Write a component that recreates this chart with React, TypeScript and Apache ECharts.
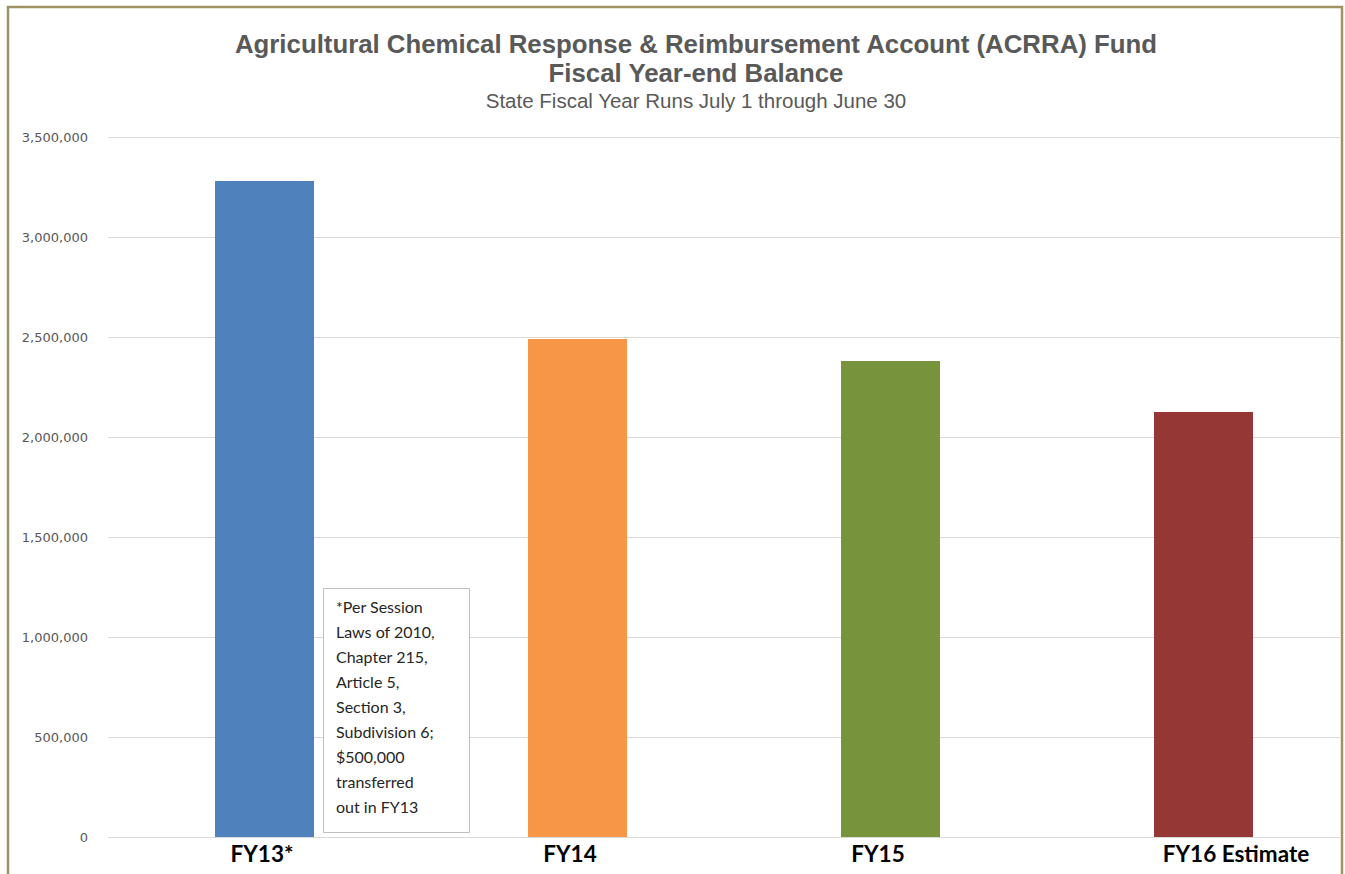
import React, { useEffect, useRef } from "react";
import * as echarts from "echarts";

const CATEGORIES = ["FY13*", "FY14", "FY15", "FY16 Estimate"];
const BALANCES = [3280000, 2490000, 2380000, 2125000];
const BAR_COLORS = ["#4f81bd", "#f79646", "#77933c", "#953735"];
const Y_MIN = 0;
const Y_MAX = 3500000;
const Y_STEP = 500000;
const TITLE_LINES = [
  "Agricultural Chemical Response & Reimbursement Account (ACRRA) Fund",
  "Fiscal Year-end Balance",
];
const SUBTITLE = "State Fiscal Year Runs July 1 through June 30";
const NOTE_LINES = [
  "*Per Session",
  "Laws of 2010,",
  "Chapter 215,",
  "Article 5,",
  "Section 3,",
  "Subdivision 6;",
  "$500,000",
  "transferred",
  "out in FY13",
];

const LABEL_FONT = "'Liberation Sans Narrow', 'Arial Narrow', Lato, sans-serif";
const TITLE_FONT = "'Liberation Sans', Arial, sans-serif";

export default function App() {
  const ref = useRef<HTMLDivElement>(null);
  useEffect(() => {
    if (!ref.current) return;
    const chart = echarts.init(ref.current, undefined, { renderer: "svg" });
    const fmt = (v: number) => v.toLocaleString("en-US");
    chart.setOption({
      animation: false,
      backgroundColor: "#ffffff",
      grid: [
        { left: 108, right: 5, top: 137, bottom: 37 },
        {
          left: 108,
          right: -15,
          top: 137,
          bottom: 37,
          outerBoundsMode: "none",
          containLabel: false,
        },
      ],
      xAxis: [
        {
          type: "category",
          gridIndex: 0,
          data: CATEGORIES.map((c, i) =>
            i === CATEGORIES.length - 1
              ? { value: c, textStyle: { padding: [0, 0, 0, 100] } }
              : c
          ),
          axisLine: { show: false },
          axisTick: { show: false },
          axisLabel: {
            margin: 5,
            color: "#000000",
            fontWeight: "bold",
            fontSize: 22.5,
            fontFamily: LABEL_FONT,
            interval: 0,
          },
        },
        {
          type: "category",
          gridIndex: 1,
          data: CATEGORIES,
          show: false,
        },
      ],
      yAxis: [
        {
          type: "value",
          gridIndex: 0,
          min: Y_MIN,
          max: Y_MAX,
          interval: Y_STEP,
          axisLine: { show: false },
          axisTick: { show: false },
          axisLabel: {
            margin: 20,
            color: "#595959",
            fontSize: 13,
            fontFamily: "'DejaVu Sans', Verdana, sans-serif",
            formatter: fmt,
          },
          splitLine: { lineStyle: { color: "#d9d9d9", width: 1 } },
        },
        {
          type: "value",
          gridIndex: 1,
          min: Y_MIN,
          max: Y_MAX,
          interval: Y_STEP,
          show: false,
          splitLine: { show: false },
        },
      ],
      series: [
        {
          type: "bar",
          xAxisIndex: 1,
          yAxisIndex: 1,
          barWidth: 99,
          data: BALANCES.map((v, i) => ({
            value: v,
            itemStyle: { color: BAR_COLORS[i] },
          })),
        },
      ],
      graphic: [
        {
          type: "rect",
          shape: { x: 8, y: 7, width: 1334, height: 900 },
          style: { fill: "none", stroke: "#9d9365", lineWidth: 2.5 },
          silent: true,
        },
        {
          type: "text",
          x: 696,
          y: 44,
          style: {
            text: TITLE_LINES[0],
            align: "center",
            verticalAlign: "middle",
            fill: "#595959",
            fontSize: 25.8,
            fontWeight: "bold",
            fontFamily: TITLE_FONT,
          },
        },
        {
          type: "text",
          x: 696,
          y: 73,
          style: {
            text: TITLE_LINES[1],
            align: "center",
            verticalAlign: "middle",
            fill: "#595959",
            fontSize: 25.8,
            fontWeight: "bold",
            fontFamily: TITLE_FONT,
          },
        },
        {
          type: "text",
          x: 696,
          y: 100,
          style: {
            text: SUBTITLE,
            align: "center",
            verticalAlign: "middle",
            fill: "#595959",
            fontSize: 20.5,
            fontFamily: TITLE_FONT,
          },
        },
        {
          type: "rect",
          shape: { x: 323.5, y: 588.5, width: 146, height: 244 },
          style: { fill: "#ffffff", stroke: "#bfbfbf", lineWidth: 1 },
          z: 10,
        },
        {
          type: "text",
          x: 336,
          y: 594,
          z: 11,
          style: {
            text: NOTE_LINES.join("\n"),
            fill: "#262626",
            fontSize: 16,
            lineHeight: 25,
            fontFamily: LABEL_FONT,
            verticalAlign: "top",
            align: "left",
          },
        },
      ],
    });
    return () => chart.dispose();
  }, []);
  return (
    <div
      ref={ref}
      style={{ position: "absolute", left: 0, top: 0, width: 1345, height: 874 }}
    />
  );
}
